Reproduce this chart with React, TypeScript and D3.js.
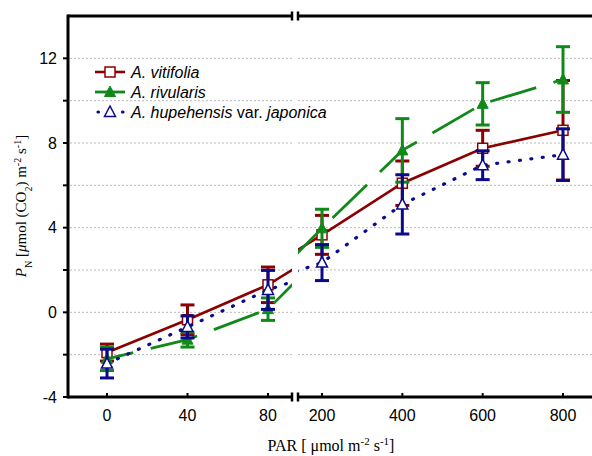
import React from "react";
import * as d3 from "d3";

const PAR = ["0", "40", "80", "200", "400", "600", "800"];
const vitifolia = [-1.9, -0.35, 1.3, 3.66, 6.1, 7.75, 8.6];
const vitifoliaErr = [0.4, 0.7, 0.84, 0.92, 1.05, 0.85, 2.35];
const rivularis = [-2.2, -1.29, 0.15, 3.97, 7.65, 9.85, 11.0];
const rivularisErr = [0.55, 0.35, 0.53, 0.9, 1.5, 1.0, 1.55];
const hupehensis = [-2.42, -0.69, 1.06, 2.35, 5.1, 6.95, 7.45];
const hupehensisErr = [0.68, 0.52, 0.92, 0.85, 1.4, 0.68, 1.22];
const yTickLabels = [-4, 0, 4, 8, 12];
const yMinor = [-2, 2, 6, 10];
const gridValues = [-2, 0, 2, 4, 6, 8, 10, 12];

const W = 592, H = 456;
const X0 = 68, X1 = 592, YT = 16, YB = 397;
const BREAK_L = 292, BREAK_R = 298;

const RED = "#8b0000";
const GREEN = "#10891a";
const BLUE = "#0a0a8a";

const y = d3.scaleLinear().domain([-4, 14]).range([YB, YT]);
const xL = d3.scaleLinear().domain([0, 2]).range([107, 268]);
const xR = d3.scaleLinear().domain([3, 6]).range([322, 563]);
const xPos = (i: number) => (i <= 2 ? xL(i) : xR(i));

type Series = {
  name: string;
  values: number[];
  err: number[];
  color: string;
  marker: "square" | "triFill" | "triOpen";
  dash: string;
  offL: number;
  offR: number;
  width: number;
  cap: "butt" | "round";
};

const series: Series[] = [
  { name: "vitifolia", values: vitifolia, err: vitifoliaErr, color: RED, marker: "square", dash: "none", offL: 0, offR: 0, width: 2.6, cap: "butt" },
  { name: "rivularis", values: rivularis, err: rivularisErr, color: GREEN, marker: "triFill", dash: "48,18", offL: 21, offR: 3.3, width: 2.8, cap: "butt" },
  { name: "hupehensis", values: hupehensis, err: hupehensisErr, color: BLUE, marker: "triOpen", dash: "1,10.5", offL: 0, offR: 0, width: 3.2, cap: "round" },
];

function Marker({ kind, cx, cy, color }: { kind: string; cx: number; cy: number; color: string }) {
  if (kind === "square") {
    return <rect x={cx - 5} y={cy - 5} width={10} height={10} fill="#fff" stroke={color} strokeWidth={1.5} />;
  }
  const pts = `${cx},${cy - 6} ${cx + 5.5},${cy + 4.5} ${cx - 5.5},${cy + 4.5}`;
  if (kind === "triFill") return <polygon points={pts} fill={color} stroke={color} strokeWidth={1} />;
  return <polygon points={pts} fill="#fff" stroke={color} strokeWidth={1.5} />;
}

export default function App() {
  const lineL = d3.line<number>().x((_, i) => xL(i)).y((d) => y(d));
  const lineR = d3.line<number>().x((_, i) => xR(i + 2)).y((d) => y(d));

  return (
    <svg width={W} height={H} style={{ position: "absolute", left: 0, top: 0, background: "#fff" }}>
      <defs>
        <clipPath id="clipL"><rect x={X0} y={YT} width={BREAK_L - X0} height={YB - YT} /></clipPath>
        <clipPath id="clipR"><rect x={BREAK_R} y={YT} width={X1 - BREAK_R} height={YB - YT} /></clipPath>
      </defs>
      <rect x={0} y={0} width={W} height={H} fill="#fff" />

      {/* grid */}
      {gridValues.map((g) => (
        <g key={"g" + g}>
          <line x1={X0 + 2} x2={BREAK_L} y1={y(g)} y2={y(g)} stroke="#b8b8b8" strokeWidth={1} strokeDasharray="2,2" />
          <line x1={BREAK_R} x2={X1} y1={y(g)} y2={y(g)} stroke="#b8b8b8" strokeWidth={1} strokeDasharray="2,2" />
        </g>
      ))}

      {/* series */}
      {series.map((s) => (
        <g key={s.name}>
          <g clipPath="url(#clipL)">
            <path d={lineL(s.values.slice(0, 4)) || ""} fill="none" stroke={s.color} strokeWidth={s.width}
              strokeDasharray={s.dash} strokeDashoffset={s.offL} strokeLinecap={s.cap} />
          </g>
          <g clipPath="url(#clipR)">
            <path d={lineR(s.values.slice(2)) || ""} fill="none" stroke={s.color} strokeWidth={s.width}
              strokeDasharray={s.dash} strokeDashoffset={s.offR} strokeLinecap={s.cap} />
          </g>
          {s.values.map((v, i) => {
            const cx = xPos(i);
            const top = y(v + s.err[i]);
            const bot = y(v - s.err[i]);
            return (
              <g key={i}>
                <line x1={cx} x2={cx} y1={top} y2={bot} stroke={s.color} strokeWidth={3} />
                <line x1={cx - 7} x2={cx + 7} y1={top} y2={top} stroke={s.color} strokeWidth={3} />
                <line x1={cx - 7} x2={cx + 7} y1={bot} y2={bot} stroke={s.color} strokeWidth={3} />
              </g>
            );
          })}
          {s.values.map((v, i) => (
            <Marker key={"m" + i} kind={s.marker} cx={xPos(i)} cy={y(v)} color={s.color} />
          ))}
        </g>
      ))}

      {/* axes */}
      <line x1={X0} x2={X0} y1={YT - 1.5} y2={YB + 1.5} stroke="#000" strokeWidth={3} />
      <line x1={X0} x2={BREAK_L} y1={YT} y2={YT} stroke="#000" strokeWidth={3} />
      <line x1={BREAK_R} x2={X1} y1={YT} y2={YT} stroke="#000" strokeWidth={3} />
      <line x1={X0} x2={BREAK_L} y1={YB} y2={YB} stroke="#000" strokeWidth={3} />
      <line x1={BREAK_R} x2={X1} y1={YB} y2={YB} stroke="#000" strokeWidth={3} />
      {[BREAK_L, BREAK_R].map((bx) => (
        <g key={"b" + bx}>
          <line x1={bx} x2={bx} y1={YT - 4.5} y2={YT + 4.5} stroke="#000" strokeWidth={2.5} />
          <line x1={bx} x2={bx} y1={YB - 4.5} y2={YB + 4.5} stroke="#000" strokeWidth={2.5} />
        </g>
      ))}

      {/* y ticks */}
      {[...yTickLabels, ...yMinor].map((t) => (
        <line key={"yt" + t} x1={X0 - 5} x2={X0} y1={y(t)} y2={y(t)} stroke="#000" strokeWidth={2} />
      ))}
      {yTickLabels.map((t) => (
        <text key={"yl" + t} x={X0 - 11} y={y(t)} dy="0.36em" textAnchor="end"
          fontFamily="Liberation Sans, Arial, sans-serif" fontSize={16}>{t}</text>
      ))}

      {/* x ticks */}
      {PAR.map((p, i) => (
        <g key={"xt" + p}>
          <line x1={xPos(i)} x2={xPos(i)} y1={YB} y2={YB - 4} stroke="#000" strokeWidth={2} />
          <text x={xPos(i)} y={421} textAnchor="middle" fontFamily="Liberation Sans, Arial, sans-serif" fontSize={16}>{p}</text>
        </g>
      ))}

      {/* axis titles */}
      <text x={331} y={451} textAnchor="middle" fontFamily="Liberation Serif, Times New Roman, serif" fontSize={16}>
        PAR [ μmol m<tspan baseline-shift="super" fontSize={11}>-2</tspan> s<tspan baseline-shift="super" fontSize={11}>-1</tspan>]
      </text>
      <text transform="translate(26,206) rotate(-90)" textAnchor="middle" fontFamily="Liberation Serif, Times New Roman, serif" fontSize={15}>
        <tspan fontStyle="italic">P</tspan><tspan baseline-shift="sub" fontSize={10}>N</tspan> [<tspan fontStyle="italic">μ</tspan>mol (CO<tspan baseline-shift="sub" fontSize={10}>2</tspan>) m<tspan baseline-shift="super" fontSize={10}>-2</tspan> s<tspan baseline-shift="super" fontSize={10}>-1</tspan>]
      </text>

      {/* legend */}
      <g fontFamily="Liberation Sans, Arial, sans-serif" fontSize={16} fontStyle="italic">
        <line x1={95} x2={125} y1={72} y2={72} stroke={RED} strokeWidth={2.6} />
        <Marker kind="square" cx={110} cy={72} color={RED} />
        <text x={131} y={72} dy="0.36em">A. vitifolia</text>

        <line x1={95} x2={125} y1={92} y2={92} stroke={GREEN} strokeWidth={2.8} />
        <Marker kind="triFill" cx={110} cy={92} color={GREEN} />
        <text x={131} y={92} dy="0.36em">A. rivularis</text>

        <line x1={98} x2={123} y1={112} y2={112} stroke={BLUE} strokeWidth={3.2} strokeDasharray="0.5,24" strokeLinecap="round" />
        <Marker kind="triOpen" cx={110} cy={112} color={BLUE} />
        <text x={131} y={112} dy="0.36em">A. hupehensis <tspan fontStyle="normal">var.</tspan> japonica</text>
      </g>
    </svg>
  );
}
